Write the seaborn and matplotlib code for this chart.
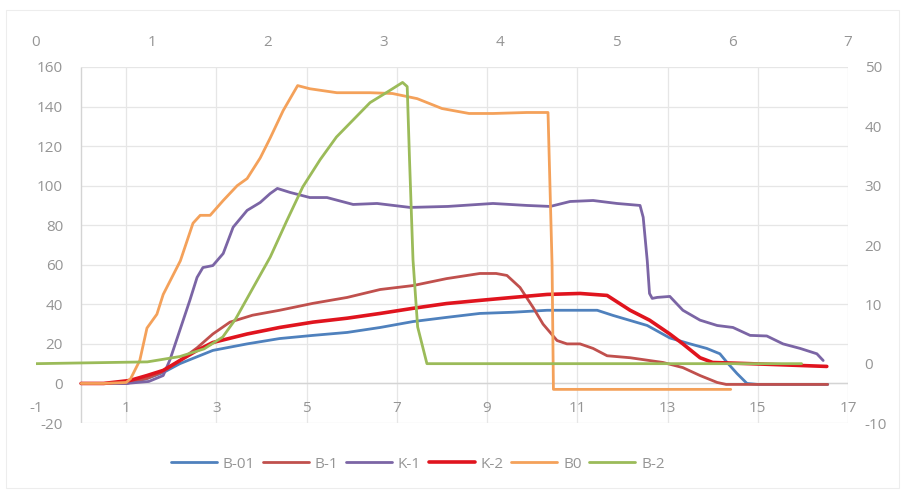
import pandas as pd
import seaborn as sns
import matplotlib.pyplot as plt
from matplotlib.patches import Rectangle

# primary axes series (bottom x: -1..17, left y: -20..160)
b01_x = [0, 1.0, 1.46, 1.82, 2.19, 2.92, 3.68, 4.4, 5.14, 5.9, 6.63, 7.36, 8.1, 8.84, 9.57,
         10.33, 11.44, 11.79, 12.55, 13.05, 13.5, 13.87, 14.16, 14.32, 14.54, 14.76, 15.0, 16.55]
b01_y = [0, 0, 2.5, 5.5, 10, 16.7, 20, 22.7, 24.3, 25.8, 28.3, 31.3, 33.4, 35.4, 36,
         37, 37, 34.4, 29.3, 23, 20, 17.7, 15, 10.6, 5, 0, -0.5, -0.5]

b1_x = [0, 1.0, 1.46, 1.82, 2.19, 2.57, 2.92, 3.3, 3.8, 4.4, 5.14, 5.9, 6.63, 7.36, 8.1, 8.84,
        9.2, 9.44, 9.73, 10.02, 10.24, 10.55, 10.77, 11.06, 11.35, 11.66, 12.17, 12.9, 13.34,
        13.72, 14.1, 14.3, 16.55]
b1_y = [0, 0, 2.5, 6, 11.6, 18, 25, 31, 34.5, 37, 40.5, 43.5, 47.5, 49.5, 53, 55.6,
        55.6, 54.6, 48.5, 38.4, 30, 21.7, 20, 20, 17.7, 14, 13, 10.6, 8,
        4, 0.5, -0.5, -0.5]

k1_x = [0, 1.0, 1.5, 1.82, 1.97, 2.19, 2.41, 2.57, 2.7, 2.92, 3.15, 3.37, 3.68, 3.97, 4.19,
        4.35, 4.63, 5.07, 5.45, 6.03, 6.56, 7.29, 8.13, 9.13, 9.88, 10.4, 10.84, 11.35, 11.88,
        12.39, 12.46, 12.55, 12.6, 12.66, 12.77, 13.05, 13.34, 13.72, 14.1, 14.45, 14.83,
        15.2, 15.56, 15.94, 16.31, 16.45]
k1_y = [0, 0, 1, 4, 12, 27, 42, 53.6, 58.6, 59.6, 65.7, 79, 87.5, 91.5, 96,
        98.6, 96.6, 94, 94, 90.5, 91, 89, 89.5, 91, 90, 89.5, 92, 92.5, 91,
        90, 84, 62, 45.5, 43, 43.5, 44, 37, 32, 29.3, 28.3, 24.3,
        24, 20, 17.7, 15, 11.6]

k2_x = [0, 0.5, 1.08, 1.46, 1.82, 2.19, 2.57, 2.92, 3.68, 4.4, 5.14, 5.9, 6.63, 7.36, 8.1,
        8.84, 9.57, 10.33, 11.06, 11.66, 12.17, 12.6, 13.05, 13.34, 13.72, 14.0, 14.83, 16.53]
k2_y = [0, 0, 1.5, 4, 6.6, 11.6, 16.7, 20.7, 25, 28.3, 31, 33, 35.4, 38, 40.4,
        42, 43.5, 45, 45.5, 44.5, 37, 32, 25, 20, 13, 10.6, 10, 8.6]

b0_x = [0, 0.5, 1.0, 1.1, 1.3, 1.46, 1.68, 1.82, 2.2, 2.48, 2.64, 2.86, 3.15, 3.46, 3.68,
        3.97, 4.19, 4.48, 4.8, 5.07, 5.67, 6.4, 6.9, 7.45, 8.0, 8.6, 9.13, 9.88, 10.35,
        10.44, 10.47, 14.4]
b0_y = [0, 0, 0.5, 2.5, 11.6, 28, 35, 45, 62, 81, 85, 85, 92.5, 100, 103.6,
        114, 124, 138, 150.6, 149, 147, 147, 146.6, 144, 139, 136.5, 136.5, 137, 137,
        60, -3, -3]

# secondary axes series (top x: 0..7, right y: -10..50)
b2_x = [0, 0.96, 1.24, 1.45, 1.61, 1.72, 1.82, 1.92, 2.02, 2.16, 2.3, 2.45, 2.59, 2.73,
        2.88, 3.03, 3.16, 3.2, 3.22, 3.25, 3.29, 3.37, 6.6]
b2_y = [0, 0.3, 1.2, 2.5, 4.5, 7.5, 11, 14.5, 18, 24, 29.8, 34.4, 38.2, 41,
        44, 45.8, 47.4, 46.7, 34.4, 17.5, 6.2, 0, 0]

primary = [
    ('B-01', b01_x, b01_y, '#4F81BD', 2.0),
    ('B-1', b1_x, b1_y, '#C0504D', 2.0),
    ('K-1', k1_x, k1_y, '#7B65A5', 2.0),
    ('K-2', k2_x, k2_y, '#E0141E', 2.6),
]
orange = ('B0', b0_x, b0_y, '#F4A15A', 2.0)
green = ('B-2', b2_x, b2_y, '#9BBB59', 2.0)

x_ticks = list(range(-1, 18, 2))
y_ticks = list(range(-20, 161, 20))
top_ticks = list(range(0, 8))
right_ticks = list(range(-10, 51, 10))

sns.set_theme(style='white')
plt.rcParams['font.family'] = ['Open Sans', 'DejaVu Sans']
plt.rcParams['axes.unicode_minus'] = False
txt = '#959595'
grid_c = '#E6E6E6'

fig = plt.figure(figsize=(9.05, 4.94), dpi=100)
rect = [36 / 905, 71 / 494, 812 / 905, 356 / 494]
ax = fig.add_axes(rect)
ax2 = fig.add_axes(rect)
ax2.patch.set_visible(False)

ax.set_xlim(-1, 17)
ax.set_ylim(-20, 160)
ax2.set_xlim(0, 7)
ax2.set_ylim(-10, 50)

# gridlines inside the plot area (x from 0 to 17)
ax.hlines(y_ticks, 0, 17, color=grid_c, lw=0.9, zorder=0)
ax.vlines(list(range(1, 18, 2)), -20, 160, color=grid_c, lw=0.9, zorder=0)
ax.vlines([0], -20, 160, color='#D4D4D4', lw=1.0, zorder=0)
ax.hlines([0], 0, 17, color='#D4D4D4', lw=1.0, zorder=0)

handles = {}
for name, xs, ys, col, lw in primary + [orange]:
    df = pd.DataFrame({'x': xs, 'y': ys})
    sns.lineplot(data=df, x='x', y='y', ax=ax, color=col, lw=lw,
                 sort=False, estimator=None)
    handles[name] = ax.lines[-1]

name, xs, ys, col, lw = green
df = pd.DataFrame({'x': xs, 'y': ys})
sns.lineplot(data=df, x='x', y='y', ax=ax2, color=col, lw=lw, sort=False, estimator=None)
handles[name] = ax2.lines[-1]

for a in (ax, ax2):
    for s in a.spines.values():
        s.set_visible(False)
    a.set_xlabel('')
    a.set_ylabel('')

ax.set_xticks(x_ticks)
ax.set_yticks(y_ticks)
ax.tick_params(axis='x', length=0, pad=-15.5, labelsize=11, labelcolor=txt)
ax.tick_params(axis='y', length=0, pad=-19.5, labelsize=11, labelcolor=txt)

ax2.xaxis.tick_top()
ax2.yaxis.tick_right()
ax2.set_xticks(top_ticks)
ax2.set_yticks(right_ticks)
ax2.tick_params(axis='x', length=0, pad=12, labelsize=11, labelcolor=txt)
ax2.tick_params(axis='y', length=0, pad=12, labelsize=11, labelcolor=txt)

order = ['B-01', 'B-1', 'K-1', 'K-2', 'B0', 'B-2']
fig.legend([handles[k] for k in order], order, loc='center',
           bbox_to_anchor=(418 / 905, 1 - 464 / 494), ncol=6, frameon=False,
           handlelength=3.0, handletextpad=0.4, columnspacing=0.5,
           fontsize=11, labelcolor=txt)

fig.patches.append(Rectangle((6 / 905, 6 / 494), 893 / 905, 478 / 494,
                             transform=fig.transFigure, fill=False,
                             ec='#EDEDED', lw=0.8))

fig.savefig('out.png', dpi=100)
